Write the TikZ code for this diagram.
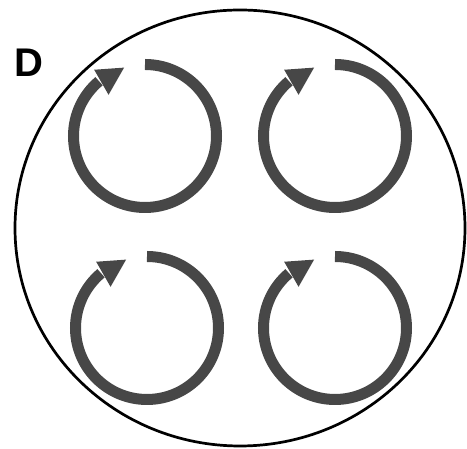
\documentclass[tikz,border=0pt]{standalone}
\usepackage{fontspec}
\setmainfont{Liberation Sans}
\definecolor{ringgray}{HTML}{474747}
\begin{document}
\begin{tikzpicture}[x=1pt,y=1pt,
  outline/.style={draw=black,line width=2.7pt},
  ring/.style={draw=ringgray,line width=11pt,line cap=butt},
  ringhead/.style={fill=ringgray},
  label/.style={font=\fontsize{40}{40}\selectfont\bfseries,inner sep=0pt}]
\useasboundingbox (0,0) rectangle (467,449);
\draw[outline] (240,221) ellipse [x radius=225, y radius=218];
\node[label] (lbl) at (29,386.5) {D};
\foreach \cx/\cy [count=\i] in {145/313, 335/313, 147/121, 335/121}{
  \begin{scope}[shift={(\cx,\cy)}]
    \draw[ring] (90:71.5) arc[start angle=90, end angle=-230, radius=71.5];
    \fill[ringhead] (107:71.5) -- (127.5:83.5) -- (131.5:55) -- cycle;
  \end{scope}
}
\end{tikzpicture}
\end{document}
